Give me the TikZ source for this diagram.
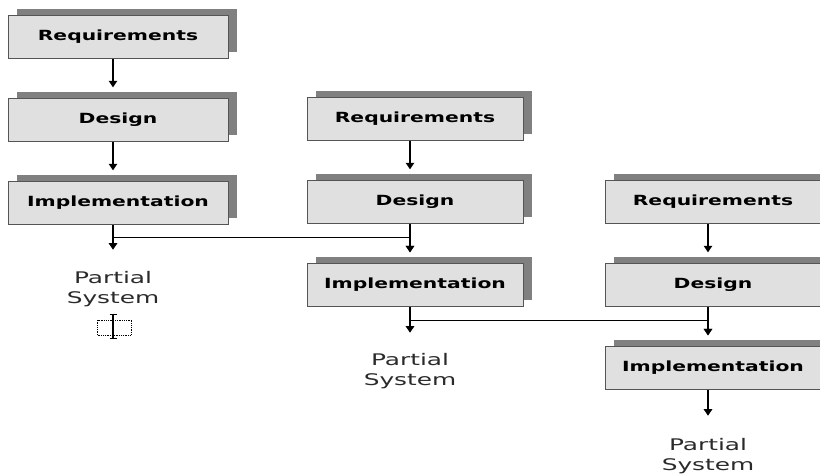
\documentclass[tikz,border=0pt]{standalone}
\usepackage{fontspec}
\usetikzlibrary{positioning,shadows,arrows.meta}
\newfontfamily\stagefont[FakeStretch=1.45]{DejaVu Sans}
\newfontfamily\resultfont[FakeStretch=1.55]{DejaVu Sans}
\definecolor{boxgray}{HTML}{E0E0E0}
\definecolor{shadowgray}{HTML}{808080}
\definecolor{edgegray}{HTML}{555555}
\definecolor{textgray}{HTML}{2A2A2A}
\tikzset{stage/.style={rectangle,draw=edgegray,fill=boxgray,minimum width=216pt,minimum height=43pt,inner sep=0pt,general shadow={fill=shadowgray,shadow xshift=9pt,shadow yshift=6pt},font=\stagefont\bfseries\fontsize{14pt}{16pt}\selectfont}}
\tikzset{result/.style={align=center,inner sep=0pt,text=textgray,font=\resultfont\fontsize{16pt}{20pt}\selectfont}}
\tikzset{flow/.style={-{Triangle[length=6.5pt,width=8.5pt]},line width=1.1pt,shorten >=11pt}}

\begin{document}
\begin{tikzpicture}[node distance=83pt]
\useasboundingbox (0,0) rectangle (820pt,474pt);

% first increment
\node[stage,minimum width=220pt,xshift=118pt,yshift=437pt] (req1) {Requirements};
\node[stage,minimum width=220pt] [below of=req1] (des1) {Design};
\node[stage,minimum width=220pt] [below of=des1] (imp1) {Implementation};
\node[result,below=46pt of imp1,xshift=-5pt] (ps1) {Partial\\System};
\node[draw,densely dotted,line width=0.8pt,minimum width=34pt,minimum height=15pt,inner sep=0pt,below=13pt of ps1,xshift=1.5pt] (cursor) {};

% second increment
\node[stage,xshift=415pt,yshift=355pt] (req2) {Requirements};
\node[stage] [below of=req2] (des2) {Design};
\node[stage] [below of=des2] (imp2) {Implementation};
\node[result,below=46pt of imp2,xshift=-5pt] (ps2) {Partial\\System};

% third increment
\node[stage,xshift=713pt,yshift=272pt] (req3) {Requirements};
\node[stage] [below of=req3] (des3) {Design};
\node[stage] [below of=des3] (imp3) {Implementation};
\node[result,below=48pt of imp3,xshift=-5pt] (ps3) {Partial\\System};

\draw[flow] ([xshift=-5pt]req1.south) -- ([xshift=-5pt]des1.north);
\draw[flow] ([xshift=-5pt]des1.south) -- ([xshift=-5pt]imp1.north);
\draw[flow,shorten >=21pt] ([xshift=-5pt]imp1.south) -- (ps1.north);
\draw[flow] ([xshift=-5pt]req2.south) -- ([xshift=-5pt]des2.north);
\draw[flow] ([xshift=-5pt]des2.south) -- ([xshift=-5pt]imp2.north);
\draw[flow,shorten >=20pt] ([xshift=-5pt]imp2.south) -- (ps2.north);
\draw[flow] ([xshift=-5pt]req3.south) -- ([xshift=-5pt]des3.north);
\draw[flow] ([xshift=-5pt]des3.south) -- ([xshift=-5pt]imp3.north);
\draw[flow,shorten >=22pt] ([xshift=-5pt]imp3.south) -- (ps3.north);

% feed into the next increment
\coordinate (j1) at ([xshift=-5pt,yshift=-13pt]imp1.south);
\coordinate (j2) at ([xshift=-5pt,yshift=-14pt]imp2.south);
\draw[flow] (j1) -| ([xshift=-5pt]imp2.north);
\draw[flow] (j2) -| ([xshift=-5pt]imp3.north);

% text cursor
\draw[line width=1.3pt] ([xshift=-1.5pt,yshift=5pt]cursor.north) -- ([xshift=-1.5pt,yshift=-3pt]cursor.south);
\draw[line width=0.8pt] ([xshift=-5pt,yshift=5pt]cursor.north) -- ([xshift=2pt,yshift=5pt]cursor.north);
\draw[line width=0.8pt] ([xshift=-5pt,yshift=-3pt]cursor.south) -- ([xshift=2pt,yshift=-3pt]cursor.south);
\end{tikzpicture}
\end{document}
